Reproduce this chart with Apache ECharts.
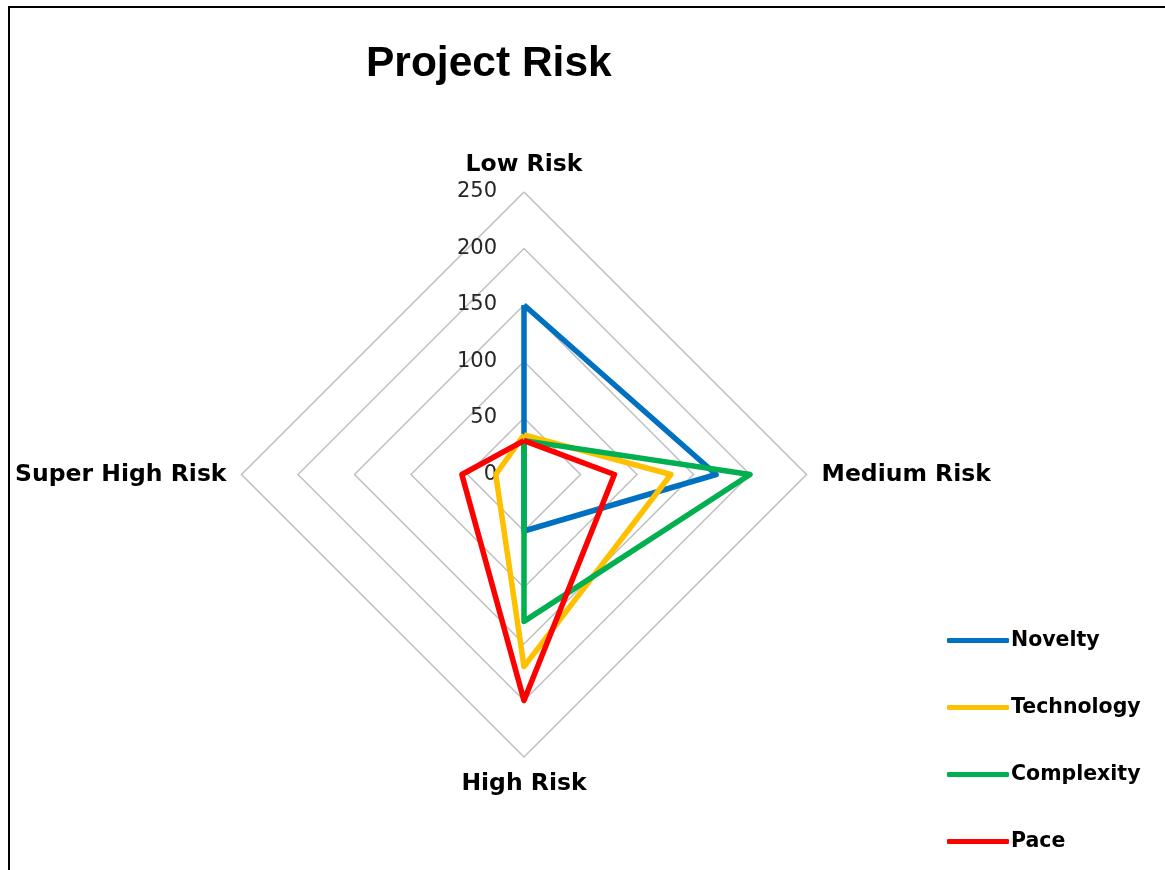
<!DOCTYPE html>
<html>
<head>
<meta charset="utf-8">
<script src="https://cdn.jsdelivr.net/npm/echarts@6/dist/echarts.min.js"></script>
<style>
body{margin:0;background:#fff;}
#chart{position:absolute;left:0;top:0;width:1165px;height:870px;}
#frame{position:absolute;left:8px;top:6px;width:1170px;height:880px;border:2px solid #000;pointer-events:none;}
</style>
</head>
<body>
<div id="chart"></div>
<div id="frame"></div>
<script>
var categories = ['Low Risk', 'Medium Risk', 'High Risk', 'Super High Risk'];
var tickLabels = [0, 50, 100, 150, 200, 250];
var novelty    = [150, 170, 50, 0];
var technology = [35, 130, 170, 25];
var complexity = [30, 200, 130, 0];
var pace       = [30, 80, 200, 55];

var seriesNames = ['Novelty', 'Technology', 'Complexity', 'Pace'];
var seriesColors = ['#0070C0', '#FFC000', '#00B050', '#FF0000'];
var seriesValues = [novelty, technology, complexity, pace];

// echarts radar goes counterclockwise, so reorder to put Medium Risk on the right
var order = [0, 3, 2, 1];

var chart = echarts.init(document.getElementById('chart'));

var radarData = seriesValues.map(function (vals, i) {
	return {
		name: seriesNames[i],
		value: order.map(function (k) { return vals[k]; }),
		lineStyle: {color: seriesColors[i], width: 5.5},
		itemStyle: {color: seriesColors[i]}
	};
});

var option = {
	animation: false,
	title: {
		text: 'Project Risk',
		left: 361,
		top: 38,
		textStyle: {fontFamily: 'Liberation Sans', fontWeight: 'bold', fontSize: 42.5, color: '#000'}
	},
	legend: {
		orient: 'vertical',
		left: 942,
		top: 625,
		itemWidth: 62,
		itemHeight: 5,
		itemGap: 46,
		icon: 'roundRect',
		data: seriesNames,
		textStyle: {fontFamily: 'DejaVu Sans', fontWeight: 'bold', fontSize: 20.5, color: '#000', padding: [0, 0, 0, -3]}
	},
	radar: {
		center: [524, 474.5],
		radius: 282.5,
		shape: 'polygon',
		splitNumber: 5,
		nameGap: 15,
		indicator: order.map(function (k) { return {name: categories[k], max: 250, min: 0}; }),
		axisName: {fontFamily: 'DejaVu Sans', fontWeight: 'bold', fontSize: 23.5, color: '#000'},
		axisLine: {show: false},
		axisTick: {show: false},
		axisLabel: {show: false},
		splitArea: {show: false},
		splitLine: {lineStyle: {color: '#BFBFBF', width: 1.5}}
	},
	// value labels on the Low Risk spoke
	grid: {left: 524, top: 192, width: 1, height: 282.5},
	xAxis: {type: 'value', show: false},
	yAxis: {
		type: 'value',
		min: 0,
		max: 250,
		interval: 50,
		axisLine: {show: false},
		axisTick: {show: false},
		splitLine: {show: false},
		axisLabel: {margin: 27, fontFamily: 'DejaVu Sans', fontSize: 21, color: '#262626', formatter: function (v) { return tickLabels.indexOf(v) >= 0 ? String(v) : ''; }}
	},
	series: [{
		type: 'radar',
		symbol: 'none',
		data: radarData
	}]
};

chart.setOption(option);
</script>
</body>
</html>
